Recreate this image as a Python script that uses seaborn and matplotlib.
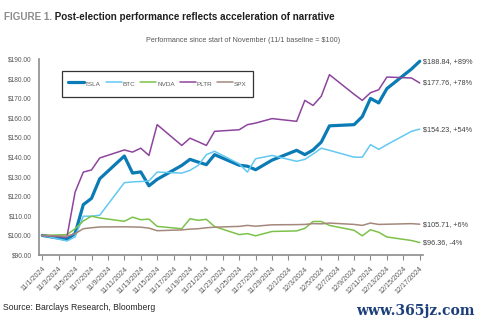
import pandas as pd
import seaborn as sns
import matplotlib
matplotlib.use("Agg")
import matplotlib.pyplot as plt
import matplotlib.dates as mdates
from matplotlib.ticker import FuncFormatter, FixedLocator

# Trading days from the 11/1 baseline through mid-December
dates = ["2024-11-01", "2024-11-04", "2024-11-05", "2024-11-06", "2024-11-07", "2024-11-08",
         "2024-11-11", "2024-11-12", "2024-11-13", "2024-11-14", "2024-11-15",
         "2024-11-18", "2024-11-19", "2024-11-20", "2024-11-21", "2024-11-22",
         "2024-11-25", "2024-11-26", "2024-11-27", "2024-11-29",
         "2024-12-02", "2024-12-03", "2024-12-04", "2024-12-05", "2024-12-06",
         "2024-12-09", "2024-12-10", "2024-12-11", "2024-12-12", "2024-12-13",
         "2024-12-16", "2024-12-17"]

series = ["TSLA", "BTC", "NVDA", "PLTR", "SPX"]

# Value of $100 invested on 11/1
tsla = [100.0, 97.9, 101.0, 115.7, 118.9, 128.9, 140.5, 131.8, 132.4, 125.3, 128.6,
        135.7, 138.8, 137.4, 136.1, 141.2, 135.8, 135.3, 133.5, 138.4,
        143.4, 141.2, 143.6, 147.6, 155.9, 156.5, 160.6, 169.9, 167.6, 174.9,
        184.9, 188.84]
btc = [100.0, 97.2, 99.2, 109.8, 109.8, 110.3, 126.9, 127.3, 127.5, 127.8, 132.3,
       131.8, 133.2, 135.7, 141.2, 142.9, 136.5, 132.3, 139.1, 140.8,
       137.8, 138.8, 141.5, 144.5, 143.4, 139.9, 139.9, 146.3, 143.9, 146.3,
       153.1, 154.23]
nvda = [100.0, 100.4, 103.4, 107.4, 109.8, 108.9, 107.2, 109.3, 108.0, 108.3, 104.6,
        103.4, 108.5, 107.7, 108.2, 104.5, 100.4, 100.9, 99.8, 102.0,
        102.3, 103.6, 107.1, 107.1, 105.1, 102.6, 99.8, 102.9, 101.6, 99.2,
        97.4, 96.36]
pltr = [100.0, 99.1, 122.1, 132.3, 133.4, 139.5, 143.6, 142.5, 144.5, 140.8, 156.5,
        145.9, 149.6, 147.8, 145.9, 153.1, 153.9, 156.5, 157.3, 159.6,
        158.2, 168.9, 166.3, 171.0, 182.0, 172.0, 168.9, 172.8, 174.3, 180.8,
        180.3, 177.76]
spx = [100.0, 99.6, 100.9, 103.4, 103.9, 104.3, 104.4, 104.3, 104.2, 103.7, 102.4,
       102.8, 103.2, 103.4, 103.9, 104.2, 104.6, 105.1, 104.7, 105.4,
       105.5, 105.6, 106.0, 105.9, 106.3, 105.6, 105.1, 106.3, 105.6, 105.7,
       106.0, 105.71]

palette = {"TSLA": "#0a7bb4", "BTC": "#63c8f2", "NVDA": "#7cc24a",
           "PLTR": "#8d459d", "SPX": "#a4887c"}
widths = {"TSLA": 2.3, "BTC": 1.1, "NVDA": 1.1, "PLTR": 1.1, "SPX": 1.1}

df = pd.DataFrame({"date": pd.to_datetime(dates), "TSLA": tsla, "BTC": btc,
                   "NVDA": nvda, "PLTR": pltr, "SPX": spx})
long = df.melt(id_vars="date", var_name="series", value_name="value")

sns.set_theme(style="white")
plt.rcParams["font.family"] = ["Liberation Sans", "DejaVu Sans"]

W, H = 481, 321
fig = plt.figure(figsize=(W / 100, H / 100), dpi=100)
fig.patch.set_facecolor("white")
ax = fig.add_axes([39 / W, 66 / H, 384 / W, 196 / H])

sns.lineplot(data=long, x="date", y="value", hue="series", hue_order=series,
             size="series", size_order=series, sizes=widths, palette=palette,
             legend=False, ax=ax)

# axes ranges and ticks
d0 = mdates.date2num(pd.Timestamp("2024-11-01"))
d1 = mdates.date2num(pd.Timestamp("2024-12-17"))
ax.set_xlim(d0 - 0.4, d1 + 0.4)
ax.set_ylim(90, 190)
ax.yaxis.set_major_locator(FixedLocator(range(90, 191, 10)))
ax.yaxis.set_major_formatter(FuncFormatter(lambda v, p: f"${v:.2f}"))

tick_days = pd.date_range("2024-11-01", "2024-12-17", freq="2D")
ax.set_xticks(mdates.date2num(tick_days))
ax.set_xticklabels([f"{d.month}/{d.day}/{d.year}" for d in tick_days])
ax.tick_params(axis="x", length=3.5, width=0.8, color="#8c8c8c", pad=4,
               labelsize=5.1, labelcolor="#595959", direction="out", bottom=True)
for lab in ax.get_xticklabels():
    lab.set_rotation(45)
    lab.set_ha("right")
    lab.set_rotation_mode("anchor")
ax.tick_params(axis="y", length=0, pad=5, labelsize=4.8, labelcolor="#595959")

ax.set_xlabel("")
ax.set_ylabel("")
ax.grid(False)
for side in ["top", "right"]:
    ax.spines[side].set_visible(False)
for side in ["left", "bottom"]:
    ax.spines[side].set_color("#8c8c8c")
    ax.spines[side].set_linewidth(1.2)

# end-of-line value labels
for name, vals in zip(series, [tsla, btc, nvda, pltr, spx]):
    last = vals[-1]
    ax.annotate(f"${last:.2f}, {last - 100:+.0f}%", xy=(d1, last), xytext=(2.5, 0),
                textcoords="offset points", va="center", ha="left", fontsize=5.2,
                color="#404040", annotation_clip=False)

# legend box
leg = fig.legend(handles=ax.lines[:5], labels=series, ncol=5, loc="center",
                 bbox_to_anchor=(157.5 / W, 1 - 84 / H), frameon=True, fancybox=False,
                 edgecolor="#333333", facecolor="white", framealpha=1, fontsize=4.6,
                 handlelength=2.5, handleheight=2.6, handletextpad=0.15,
                 columnspacing=0.75, borderpad=1.0)
leg.get_frame().set_linewidth(0.9)
for t in leg.get_texts():
    t.set_color("#595959")

# titles and notes
t1 = fig.text(4 / W, 1 - 20 / H, "FIGURE 1.", fontsize=7.1, fontweight="bold",
              color="#8c8c8c", va="baseline", ha="left")
ax.annotate(" Post-election performance reflects acceleration of narrative",
            xy=(1, 0), xycoords=t1, va="bottom", ha="left", fontsize=7.1,
            fontweight="bold", color="#1f1f1f", annotation_clip=False)
fig.text(243 / W, 1 - 40 / H, "Performance since start of November (11/1 baseline = $100)",
         ha="center", va="center", fontsize=5.2, color="#595959")
fig.text(3 / W, 1 - 308 / H, "Source: Barclays Research, Bloomberg", ha="left",
         va="center", fontsize=6.2, color="#262626")
fig.text(475 / W, 1 - 311 / H, "www.365jz.com", ha="right", va="center", fontsize=10,
         fontweight="bold", family=["DejaVu Serif"], color="#1c3f7a")

fig.savefig("out.png", dpi=100, facecolor="white")
